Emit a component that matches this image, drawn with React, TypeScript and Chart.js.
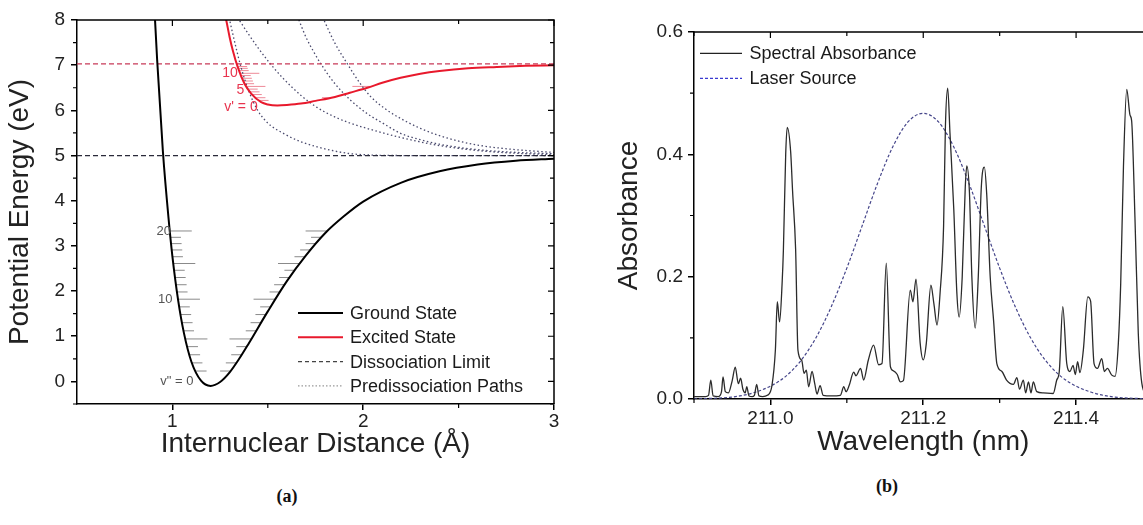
import React, { useEffect, useRef } from "react";
import { Chart, registerables } from "chart.js";
Chart.register(...registerables);

const FONT = '"Liberation Sans", Arial, Helvetica, sans-serif';

// ---------------- Panel (a) data ----------------
const groundR = [0.90, 0.92, 0.95, 0.98, 1.00, 1.03, 1.06, 1.10, 1.15, 1.20, 1.25, 1.30, 1.35, 1.40, 1.50, 1.60, 1.70, 1.80, 1.90, 2.00, 2.20, 2.40, 2.60, 2.80, 3.00];
const groundE = [8.73, 7.12, 5.10, 3.60, 2.77, 1.80, 1.08, 0.43, 0.015, -0.10, -0.013, 0.20, 0.50, 0.84, 1.55, 2.22, 2.79, 3.28, 3.66, 3.98, 4.40, 4.65, 4.80, 4.885, 4.93];

const excitedR = [1.26, 1.282, 1.30, 1.317, 1.343, 1.378, 1.413, 1.465, 1.50, 1.55, 1.60, 1.674, 1.75, 1.846, 1.93, 2.022, 2.10, 2.196, 2.30, 2.40, 2.55, 2.70, 2.85, 3.00];
const excitedE = [8.40, 8.00, 7.62, 7.32, 6.95, 6.59, 6.37, 6.18, 6.13, 6.11, 6.12, 6.15, 6.21, 6.29, 6.39, 6.50, 6.61, 6.72, 6.81, 6.87, 6.93, 6.96, 6.985, 7.00];

const pred1R = [1.28, 1.30, 1.33, 1.36, 1.40, 1.447, 1.50, 1.586, 1.67, 1.76, 1.85, 1.935, 2.05, 2.196, 2.50, 3.00];
const pred1E = [8.40, 8.00, 7.45, 6.95, 6.43, 6.00, 5.72, 5.48, 5.31, 5.19, 5.10, 5.04, 5.01, 5.00, 5.00, 5.00];
const pred2R = [1.33, 1.35, 1.40, 1.45, 1.50, 1.58, 1.674, 1.76, 1.848, 1.93, 2.02, 2.196, 2.40, 2.60, 2.80, 3.00];
const pred2E = [8.13, 8.00, 7.68, 7.38, 7.10, 6.71, 6.33, 6.06, 5.86, 5.72, 5.60, 5.40, 5.22, 5.11, 5.05, 5.02];
const pred3R = [1.64, 1.663, 1.70, 1.74, 1.778, 1.85, 1.935, 2.02, 2.109, 2.196, 2.30, 2.40, 2.60, 2.80, 3.00];
const pred3E = [8.25, 8.00, 7.62, 7.30, 7.03, 6.60, 6.22, 5.93, 5.70, 5.49, 5.35, 5.25, 5.13, 5.07, 5.04];
const pred4R = [1.77, 1.794, 1.85, 1.917, 1.98, 2.04, 2.12, 2.196, 2.30, 2.40, 2.50, 2.60, 2.80, 3.00];
const pred4E = [8.22, 8.00, 7.50, 7.03, 6.62, 6.30, 6.02, 5.82, 5.60, 5.44, 5.32, 5.23, 5.13, 5.07];

const dissocGround = 5.0;
const dissocExcited = 7.03;

// vibrational levels v'' = 1..20 (ground) and v' = 0..13 (excited), eV
const groundLevels = [0.23, 0.41, 0.59, 0.77, 0.94, 1.12, 1.30, 1.48, 1.65, 1.82, 1.98, 2.14, 2.30, 2.46, 2.61, 2.76, 2.91, 3.05, 3.19, 3.33];
const groundLevelLong = [false, false, false, false, true, false, false, false, false, true, false, false, false, false, true, false, false, false, false, true];
const excitedLevels = [6.22, 6.28, 6.35, 6.41, 6.47, 6.53, 6.59, 6.65, 6.71, 6.77, 6.82, 6.88, 6.93, 6.97];
const excitedLevelLong = [false, false, false, false, false, true, false, false, false, false, true, false, false, false];
const excitedLevelRight = [false, true, false, false, false, true, false, false, false, false, false, false, false, false];

const groundLabelText = ['v" = 0', "10", "20"];
const groundLabelR = [1.11, 1.0, 0.992];
const groundLabelE = [0.0, 1.82, 3.33];
const excitedLabelText = ["v' = 0", "5", "10"];
const excitedLabelR = [1.447, 1.377, 1.343];
const excitedLabelE = [6.07, 6.45, 6.82];

const aXTicks = [1, 2, 3];
const aXMinor = [1.5, 2.5];
const aYTicks = [0, 1, 2, 3, 4, 5, 6, 7, 8];
const aYMinor = [-0.5, 0.5, 1.5, 2.5, 3.5, 4.5, 5.5, 6.5, 7.5];
const aLegendLabels = ["Ground State", "Excited State", "Dissociation Limit", "Predissociation Paths"];

// ---------------- Panel (b) data ----------------
const specX = [
  210.900, 210.915, 210.919, 210.922, 210.925, 210.932, 210.936, 210.938, 210.941, 210.945,
  210.950, 210.954, 210.958, 210.961, 210.964, 210.967, 210.969, 210.972, 210.976, 210.979,
  210.982, 210.985, 210.990, 210.996, 211.002, 211.0065, 211.009, 211.012, 211.0153, 211.017,
  211.020, 211.022, 211.0265, 211.029, 211.033, 211.036, 211.041, 211.044, 211.047, 211.050,
  211.0545, 211.058, 211.061, 211.065, 211.069, 211.080, 211.0915, 211.096, 211.099, 211.103,
  211.109, 211.112, 211.118, 211.122, 211.128, 211.135, 211.1416, 211.146, 211.1516, 211.157,
  211.161, 211.166, 211.170, 211.174, 211.183, 211.1865, 211.1905, 211.196, 211.200, 211.204,
  211.210, 211.214, 211.218, 211.222, 211.2266, 211.229, 211.232, 211.235, 211.240, 211.244,
  211.247, 211.251, 211.255, 211.257, 211.2605, 211.2636, 211.268, 211.272, 211.276, 211.280,
  211.283, 211.2876, 211.292, 211.2963, 211.303, 211.309, 211.318, 211.3225, 211.326, 211.331,
  211.334, 211.3377, 211.341, 211.344, 211.3486, 211.357, 211.370, 211.3747, 211.378, 211.3826,
  211.3878, 211.392, 211.396, 211.399, 211.402, 211.405, 211.4095, 211.4153, 211.419, 211.4235,
  211.428, 211.4336, 211.437, 211.441, 211.4467, 211.451, 211.4553, 211.4584, 211.462, 211.4663,
  211.4706, 211.4727, 211.477, 211.4814, 211.486, 211.492, 211.500,
];
const specA = [
  0.004, 0.004, 0.006, 0.031, 0.005, 0.004, 0.012, 0.036, 0.012, 0.010,
  0.030, 0.052, 0.025, 0.034, 0.016, 0.010, 0.020, 0.005, 0.004, 0.006,
  0.024, 0.005, 0.004, 0.006, 0.022, 0.080, 0.159, 0.126, 0.189, 0.244,
  0.400, 0.444, 0.404, 0.340, 0.244, 0.080, 0.063, 0.042, 0.047, 0.020,
  0.045, 0.025, 0.008, 0.022, 0.006, 0.005, 0.006, 0.020, 0.012, 0.022,
  0.044, 0.038, 0.050, 0.031, 0.063, 0.088, 0.056, 0.058, 0.222, 0.053,
  0.046, 0.040, 0.028, 0.030, 0.178, 0.159, 0.196, 0.091, 0.064, 0.091,
  0.186, 0.155, 0.121, 0.173, 0.282, 0.445, 0.508, 0.434, 0.309, 0.173,
  0.134, 0.200, 0.347, 0.381, 0.336, 0.200, 0.116, 0.200, 0.347, 0.379,
  0.336, 0.200, 0.129, 0.058, 0.045, 0.031, 0.024, 0.035, 0.016, 0.031,
  0.010, 0.028, 0.010, 0.028, 0.012, 0.010, 0.009, 0.031, 0.045, 0.151,
  0.058, 0.045, 0.055, 0.040, 0.061, 0.043, 0.080, 0.167, 0.160, 0.058,
  0.050, 0.066, 0.045, 0.050, 0.039, 0.037, 0.091, 0.189, 0.380, 0.506,
  0.464, 0.455, 0.298, 0.107, 0.026, 0.008, 0.004,
];
const laserX = [210.90, 210.92, 210.94, 210.96, 210.98, 211.00, 211.02, 211.04, 211.06, 211.08, 211.10, 211.12, 211.14, 211.16, 211.18, 211.20, 211.22, 211.24, 211.26, 211.28, 211.30, 211.32, 211.34, 211.36, 211.38, 211.40, 211.42, 211.44, 211.46, 211.48, 211.50];
const laserA = [0.000, 0.001, 0.002, 0.005, 0.011, 0.021, 0.037, 0.063, 0.101, 0.152, 0.214, 0.283, 0.352, 0.412, 0.453, 0.467, 0.453, 0.412, 0.352, 0.283, 0.214, 0.152, 0.101, 0.063, 0.037, 0.021, 0.011, 0.005, 0.002, 0.001, 0.000];

const bXTicks = [211.0, 211.2, 211.4];
const bXMinor = [210.9, 211.1, 211.3, 211.5];
const bYTicks = [0.0, 0.2, 0.4, 0.6];
const bYMinor = [0.1, 0.3, 0.5];
const bLegendLabels = ["Spectral Absorbance", "Laser Source"];

// ---------------- helpers ----------------
const pts = (xs: number[], ys: number[]) => xs.map((x, i) => ({ x, y: ys[i] }));

function wallR(xs: number[], ys: number[], E: number, side: "left" | "right") {
  let m = 0;
  for (let i = 0; i < ys.length; i++) if (ys[i] < ys[m]) m = i;
  const a = side === "left" ? 0 : m;
  const b = side === "left" ? m : ys.length - 1;
  for (let i = a; i < b; i++) {
    const y0 = ys[i], y1 = ys[i + 1];
    if ((y0 - E) * (y1 - E) <= 0 && y0 !== y1) return xs[i] + ((E - y0) / (y1 - y0)) * (xs[i + 1] - xs[i]);
  }
  return NaN;
}

function levelSegments(xs: number[], ys: number[], levels: number[], longs: boolean[], rights: boolean[], shortLen: number, longLen: number) {
  const out: { x: number; y: number | null }[] = [];
  levels.forEach((E, i) => {
    const len = longs[i] ? longLen : shortLen;
    const wl = wallR(xs, ys, E, "left");
    out.push({ x: wl, y: E }, { x: wl + len, y: E }, { x: wl + len, y: null });
    if (rights[i]) {
      const wr = wallR(xs, ys, E, "right");
      out.push({ x: wr - len, y: E }, { x: wr, y: E }, { x: wr, y: null });
    }
  });
  return out;
}

function framePlugin(xMajor: number[], xMinor: number[], yMajor: number[], yMinor: number[]) {
  return {
    id: "frame",
    afterDraw(chart: any) {
      const { ctx, chartArea } = chart;
      const { left, right, top, bottom } = chartArea;
      const x = chart.scales.x, y = chart.scales.y;
      ctx.save();
      ctx.strokeStyle = "#000";
      ctx.lineWidth = 1.5;
      ctx.beginPath();
      ctx.moveTo(left, top);
      ctx.lineTo(right, top);
      ctx.lineTo(right, bottom);
      ctx.stroke();
      ctx.lineWidth = 1.2;
      ctx.beginPath();
      xMajor.forEach((v) => { const p = x.getPixelForValue(v); ctx.moveTo(p, top); ctx.lineTo(p, top + 6); });
      xMinor.forEach((v) => {
        const p = x.getPixelForValue(v);
        ctx.moveTo(p, top); ctx.lineTo(p, top + 4);
        ctx.moveTo(p, bottom); ctx.lineTo(p, bottom + 4);
      });
      yMajor.forEach((v) => { const p = y.getPixelForValue(v); ctx.moveTo(right, p); ctx.lineTo(right - 6, p); });
      yMinor.forEach((v) => {
        const p = y.getPixelForValue(v);
        ctx.moveTo(right, p); ctx.lineTo(right - 4, p);
        ctx.moveTo(left, p); ctx.lineTo(left - 4, p);
      });
      ctx.stroke();
      ctx.restore();
    },
  };
}

type LegendItem = { label: string; color: string; width: number; dash: number[] };
function legendPlugin(items: LegendItem[], x0: number, y0: number, dy: number, len: number, gap: number, size: number) {
  return {
    id: "customLegend",
    afterDraw(chart: any) {
      const ctx = chart.ctx;
      ctx.save();
      items.forEach((it, i) => {
        const yy = y0 + i * dy;
        ctx.strokeStyle = it.color;
        ctx.lineWidth = it.width;
        ctx.setLineDash(it.dash);
        ctx.beginPath();
        ctx.moveTo(x0, yy);
        ctx.lineTo(x0 + len, yy);
        ctx.stroke();
        ctx.setLineDash([]);
        ctx.fillStyle = "#1a1a1a";
        ctx.font = `${size}px ${FONT}`;
        ctx.textAlign = "left";
        ctx.textBaseline = "middle";
        ctx.fillText(it.label, x0 + len + gap, yy + 1);
      });
      ctx.restore();
    },
  };
}

function levelLabelPlugin() {
  return {
    id: "levelLabels",
    afterDatasetsDraw(chart: any) {
      const { ctx } = chart;
      const x = chart.scales.x, y = chart.scales.y;
      ctx.save();
      ctx.textAlign = "right";
      ctx.textBaseline = "middle";
      ctx.font = `13px ${FONT}`;
      ctx.fillStyle = "#555";
      groundLabelText.forEach((t, i) => ctx.fillText(t, x.getPixelForValue(groundLabelR[i]), y.getPixelForValue(groundLabelE[i])));
      ctx.font = `14px ${FONT}`;
      ctx.fillStyle = "#e8344e";
      excitedLabelText.forEach((t, i) => ctx.fillText(t, x.getPixelForValue(excitedLabelR[i]), y.getPixelForValue(excitedLabelE[i])));
      ctx.restore();
    },
  };
}

function axisCommon(min: number, max: number, tickVals: number[], fmt: (v: number) => string, title: string, titlePad: any, fitSize: number, isX: boolean, labelPad: number) {
  return {
    type: "linear",
    min,
    max,
    afterBuildTicks: (s: any) => { s.ticks = tickVals.map((v) => ({ value: v })); },
    afterFit: (s: any) => { if (isX) s.height = fitSize; else s.width = fitSize; },
    ticks: {
      autoSkip: false,
      maxRotation: 0,
      padding: labelPad,
      color: "#222",
      font: { family: FONT, size: 19 },
      callback: (v: number) => fmt(v),
    },
    grid: { display: true, drawOnChartArea: false, drawTicks: true, tickLength: 6, tickColor: "#000", tickWidth: 1.5, lineWidth: 1.5 },
    border: { display: true, color: "#000", width: 1.5 },
    title: { display: true, text: title, color: "#222", font: { family: FONT, size: 28 }, padding: titlePad },
  };
}

const line = (data: any[], color: string, width: number, dash: number[] = [], mono = true) => ({
  data,
  borderColor: color,
  backgroundColor: color,
  borderWidth: width,
  borderDash: dash,
  pointRadius: 0,
  fill: false,
  spanGaps: false,
  cubicInterpolationMode: mono ? "monotone" : "default",
  tension: 0,
});

export default function App() {
  const refA = useRef<HTMLCanvasElement>(null);
  const refB = useRef<HTMLCanvasElement>(null);

  useEffect(() => {
    const dotColor = "#4b4b6e";
    const chartA = new Chart(refA.current as HTMLCanvasElement, {
      type: "line",
      data: {
        datasets: [
          line(pts(groundR, groundE), "#000", 2),
          line(pts(excitedR, excitedE), "#e8192c", 2),
          line(pts([0.5, 3], [dissocGround, dissocGround]), "#2a2a3a", 1.2, [5, 3], false),
          line(pts([0.5, 3], [dissocExcited, dissocExcited]), "#c83a58", 1.2, [5, 3], false),
          line(pts(pred1R, pred1E), dotColor, 1.3, [1.5, 2.5]),
          line(pts(pred2R, pred2E), dotColor, 1.3, [1.5, 2.5]),
          line(pts(pred3R, pred3E), dotColor, 1.3, [1.5, 2.5]),
          line(pts(pred4R, pred4E), dotColor, 1.3, [1.5, 2.5]),
          line(levelSegments(groundR, groundE, groundLevels, groundLevelLong, groundLevels.map(() => true), 0.055, 0.115), "#8a8a8a", 1, [], false),
          line(levelSegments(excitedR, excitedE, excitedLevels, excitedLevelLong, excitedLevelRight, 0.05, 0.1), "#ee8a98", 1, [], false),
        ] as any,
      },
      options: {
        responsive: false,
        animation: false,
        devicePixelRatio: 1,
        events: [],
        layout: { padding: { top: 20, right: 26, left: 0, bottom: 0 } },
        plugins: { legend: { display: false }, tooltip: { enabled: false } },
        scales: {
          x: axisCommon(0.5, 3, aXTicks, (v) => String(v), "Internuclear Distance (Å)", { top: 0, bottom: 8.5 }, 66, true, 0),
          y: axisCommon(-0.5, 8, aYTicks, (v) => String(v), "Potential Energy (eV)", { top: 3.6, bottom: 0 }, 77, false, 6),
        } as any,
      },
      plugins: [
        framePlugin(aXTicks, aXMinor, aYTicks, aYMinor),
        levelLabelPlugin(),
        legendPlugin(
          [
            { label: aLegendLabels[0], color: "#000", width: 2, dash: [] },
            { label: aLegendLabels[1], color: "#e8192c", width: 2, dash: [] },
            { label: aLegendLabels[2], color: "#444", width: 1.2, dash: [4, 3] },
            { label: aLegendLabels[3], color: "#999", width: 1.2, dash: [1.5, 2] },
          ],
          298, 313, 24.3, 45, 7, 18
        ),
      ] as any,
    });

    const chartB = new Chart(refB.current as HTMLCanvasElement, {
      type: "line",
      data: {
        datasets: [
          line(pts(specX, specA), "#2b2b2b", 1.3),
          line(pts(laserX, laserA), "#45458a", 1.2, [3, 2]),
        ] as any,
      },
      options: {
        responsive: false,
        animation: false,
        devicePixelRatio: 1,
        events: [],
        layout: { padding: { top: 32, right: 27.5, left: 0, bottom: 0 } },
        plugins: { legend: { display: false }, tooltip: { enabled: false } },
        scales: {
          x: axisCommon(210.9, 211.5, bXTicks, (v) => v.toFixed(1), "Wavelength (nm)", { top: 0, bottom: 11 }, 71, true, 2),
          y: axisCommon(0, 0.6, bYTicks, (v) => v.toFixed(1), "Absorbance", { top: 12.6, bottom: 0 }, 94, false, 5),
        } as any,
      },
      plugins: [
        framePlugin(bXTicks, bXMinor, bYTicks, bYMinor),
        legendPlugin(
          [
            { label: bLegendLabels[0], color: "#222", width: 1.3, dash: [] },
            { label: bLegendLabels[1], color: "#3a3ad0", width: 1.2, dash: [3, 2] },
          ],
          100, 53.3, 25, 42, 7.5, 18
        ),
      ] as any,
    });

    return () => {
      chartA.destroy();
      chartB.destroy();
    };
  }, []);

  return (
    <div style={{ position: "fixed", left: 0, top: 0, width: 1143, height: 525, overflow: "hidden", background: "#fff" }}>
      <canvas ref={refA} width={580} height={470} style={{ position: "absolute", left: 0, top: 0, width: 580, height: 470 }} />
      <canvas ref={refB} width={580} height={470} style={{ position: "absolute", left: 600, top: 0, width: 580, height: 470 }} />
      <div style={{ position: "absolute", left: 237, top: 486, width: 100, textAlign: "center", fontFamily: '"Liberation Serif", "Times New Roman", serif', fontWeight: "bold", fontSize: 18, lineHeight: "20px", color: "#111" }}>(a)</div>
      <div style={{ position: "absolute", left: 837, top: 476, width: 100, textAlign: "center", fontFamily: '"Liberation Serif", "Times New Roman", serif', fontWeight: "bold", fontSize: 18, lineHeight: "20px", color: "#111" }}>(b)</div>
    </div>
  );
}
